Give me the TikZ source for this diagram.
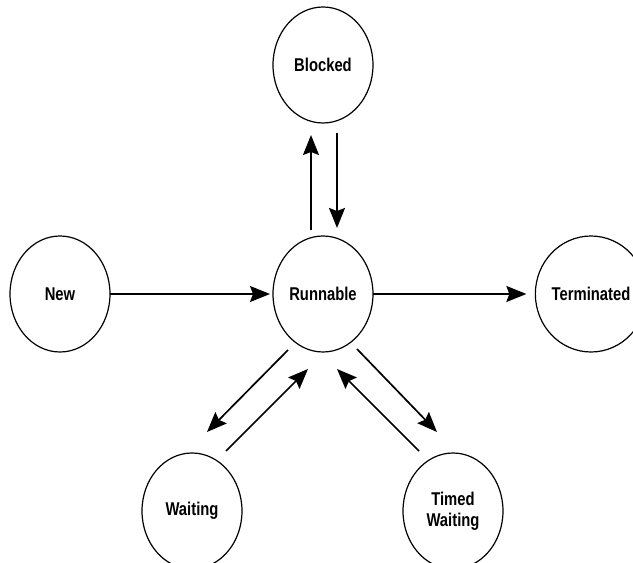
\documentclass[tikz,border=0pt]{standalone}
\usepackage{fontspec}
\setmainfont{Liberation Sans}[FakeStretch=0.8]
\usetikzlibrary{shapes.geometric,arrows.meta,calc}
\begin{document}
\begin{tikzpicture}[x=1pt,y=1pt,
  state/.style={ellipse,draw,line width=1.2pt,minimum width=100pt,minimum height=116pt,
    inner sep=0pt,outer sep=0pt,font=\fontsize{18.5}{21}\selectfont\bfseries,align=center},
  arr/.style={line width=1.7pt,-{Stealth[length=20pt,width=16pt,inset=3pt]}}]
\useasboundingbox (0,0) rectangle (633,563);
% states
\node[state] (blocked) at (323,498) {Blocked};
\node[state] (run)     at (323,269) {Runnable};
\node[state] (new)     at (60,269)  {New};
\node[state] (term)    at (591,269) {Terminated};
\node[state] (wait)    at (192,52)  {Waiting};
\node[state] (timed)   at (453,52)  {Timed\\Waiting};
% transitions
\draw[arr] (new.east) -- ([xshift=-3pt]run.west);
\draw[arr] (run.east) -- ([xshift=-9pt]term.west);
\draw[arr] ($(run)+(-12,64)$) -- ($(blocked)+(-12,-70)$);
\draw[arr] ($(blocked)+(14,-68)$) -- ($(run)+(14,66)$);
\draw[arr] ($(run)+(-35,-56)$) -- ($(wait)+(15,79)$);
\draw[arr] ($(wait)+(34,60)$) -- ($(run)+(-15,-75)$);
\draw[arr] ($(run)+(34,-55)$) -- ($(timed)+(-16,79)$);
\draw[arr] ($(timed)+(-34,60)$) -- ($(run)+(14,-75)$);
\end{tikzpicture}
\end{document}
